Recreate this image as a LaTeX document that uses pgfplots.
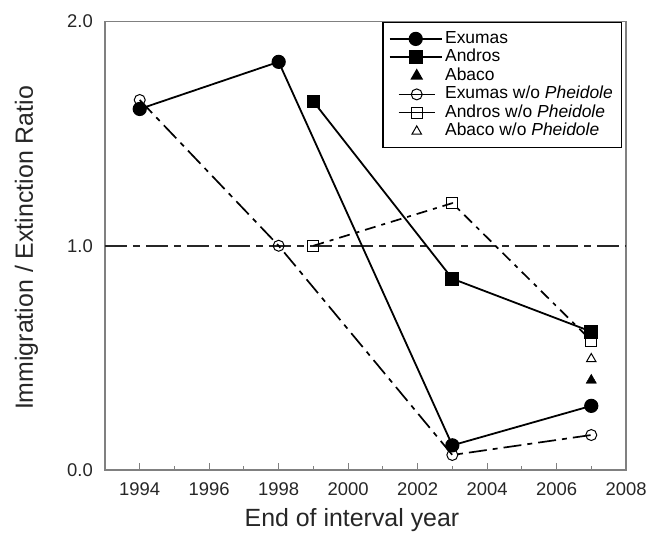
\documentclass[border=0pt]{standalone}
\usepackage{fontspec}
\setmainfont{Liberation Sans}
\usepackage{pgfplots}
\pgfplotsset{compat=1.18}

\pgfplotsset{
  solidleg/.style={legend image code/.code={%
    \path[draw=none] (0bp,0bp) -- (52bp,0bp);
    \draw[mark repeat=2,mark phase=2] plot coordinates {(0bp,0bp) (26bp,0bp) (52bp,0bp)};}},
  openleg/.style={legend image code/.code={%
    \path[draw=none] (0bp,0bp) -- (52bp,0bp);
    \draw[solid,line width=1bp,mark repeat=2,mark phase=2] plot coordinates {(9bp,0bp) (27bp,0bp) (45bp,0bp)};}},
  markleg/.style={legend image code/.code={%
    \path[draw=none] (0bp,0bp) -- (52bp,0bp);
    \draw plot coordinates {(27bp,0bp)};}},
}

\begin{document}
\begin{tikzpicture}
\begin{axis}[
  scale only axis,
  width=521bp, height=448.5bp,
  xmin=1993, xmax=2008, ymin=0, ymax=2,
  axis line style={draw=black!50, line width=1.3bp},
  tick pos=left,
  tick align=inside,
  xtick={1994,1996,...,2008},
  xticklabels={1994,1996,1998,2000,2002,2004,2006,2008},
  minor xtick={1995,1997,...,2007},
  ytick={0,1,2},
  yticklabels={0.0,1.0,2.0},
  major tick length=7bp, minor tick length=4bp,
  xtick style={draw=black!50, line width=1.1bp},
  ytick style={draw=none},
  tick label style={font=\fontsize{18.5}{21}\selectfont, text=black!85},
  xticklabel style={anchor=north, inner sep=0pt, yshift=-12bp},
  yticklabel style={anchor=east, inner sep=0pt, xshift=-12bp},
  xlabel={End of interval year},
  ylabel={Immigration / Extinction Ratio},
  every axis x label/.style={at={(axis description cs:0.474,-0.127)}, anchor=base,
    font=\fontsize{25}{30}\selectfont, text=black!85},
  every axis y label/.style={at={(axis description cs:-0.1382,0.495)}, rotate=90, anchor=base,
    font=\fontsize{25}{30}\selectfont, text=black!85},
  legend style={at={(axis description cs:0.9923,0.999)}, anchor=north east,
    draw=black, line width=1.4bp, fill=white, inner xsep=6bp, inner ysep=7bp,
    row sep=0pt, font=\fontsize{17.5}{18}\selectfont,
    nodes={inner xsep=2.5bp, inner ysep=1.5bp, text height=12bp, text depth=3.5bp}},
  legend cell align=left,
]
% reference line at ratio 1
\addplot[forget plot, black!85, line width=1.6bp, dash pattern=on 22bp off 6bp on 7bp off 6bp]
  coordinates {(1993,1) (2008,1)};
% w/o Pheidole series (drawn first, below)
\addplot[forget plot, black, line width=1.7bp, dash pattern=on 18bp off 6bp on 5bp off 6bp,
  mark=o, mark size=5.5bp, mark options={solid, line width=1bp, fill=white}]
  coordinates {(1994,1.65) (1998,1.0) (2003,0.067) (2007,0.156)};
\addplot[forget plot, black, line width=1.7bp, dash pattern=on 11bp off 6bp on 4bp off 6bp,
  mark=square, mark size=5.5bp, mark options={solid, line width=1bp, fill=white}]
  coordinates {(1999,1.0) (2003,1.19) (2007,0.577)};
\addplot[forget plot, black, only marks, mark=triangle, mark size=5.5bp,
  mark options={solid, line width=1bp, fill=white}]
  coordinates {(2007,0.495)};
% full species pools
\addplot[forget plot, black, line width=1.8bp, mark=*, mark size=6.2bp]
  coordinates {(1994,1.61) (1998,1.82) (2003,0.11) (2007,0.286)};
\addplot[forget plot, black, line width=1.8bp, mark=square*, mark size=6bp]
  coordinates {(1999,1.643) (2003,0.853) (2007,0.617)};
\addplot[forget plot, black, only marks, mark=triangle*, mark size=6bp]
  coordinates {(2007,0.40)};

\addlegendimage{black, line width=1.8bp, mark=*, mark size=6.2bp, solidleg}
\addlegendentry{Exumas}
\addlegendimage{black, line width=1.8bp, mark=square*, mark size=6bp, solidleg}
\addlegendentry{Andros}
\addlegendimage{black, only marks, mark=triangle*, mark size=6bp, markleg}
\addlegendentry{Abaco}
\addlegendimage{black, mark=o, mark size=5.5bp, mark options={solid, line width=1bp, fill=white}, openleg}
\addlegendentry{Exumas w/o \textit{Pheidole}}
\addlegendimage{black, mark=square, mark size=5.5bp, mark options={solid, line width=1bp, fill=white}, openleg}
\addlegendentry{Andros w/o \textit{Pheidole}}
\addlegendimage{black, only marks, mark=triangle, mark size=5.5bp, mark options={solid, line width=1bp, fill=white}, markleg}
\addlegendentry{Abaco w/o \textit{Pheidole}}
\end{axis}
\pgfresetboundingbox
\path ([shift={(-105bp,-63bp)}]current axis.south west) rectangle ([shift={(24bp,21.5bp)}]current axis.north east);
\end{tikzpicture}
\end{document}
